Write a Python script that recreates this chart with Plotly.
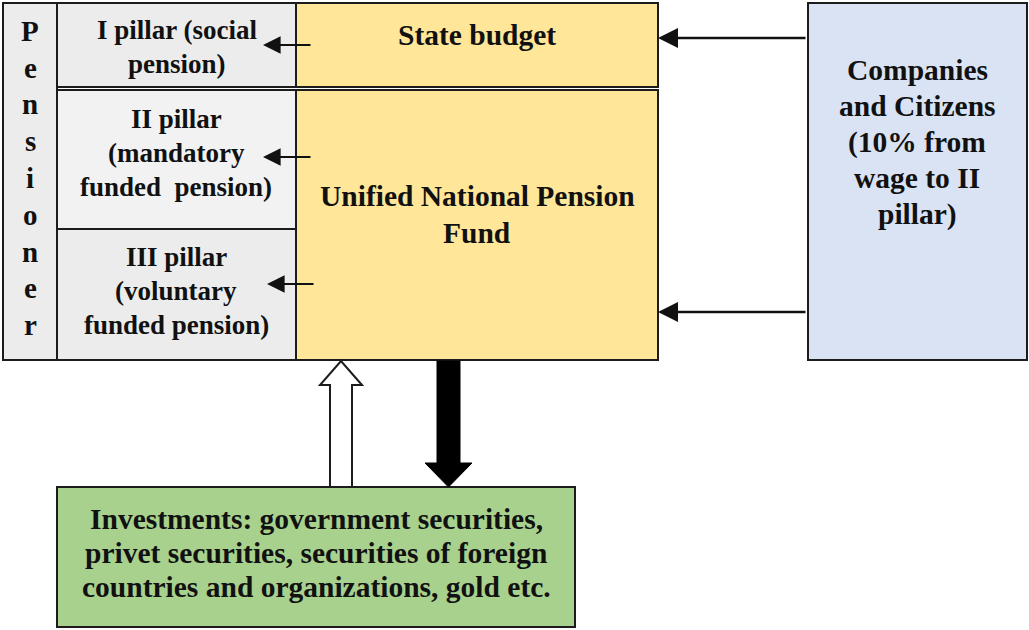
import plotly.graph_objects as go

# ---- diagram content (text labels) ----
pensioner_word = "Pensioner"
pillar_labels = [
    ["I pillar (social", "pension)"],
    ["II pillar", "(mandatory", "funded  pension)"],
    ["III pillar", "(voluntary", "funded pension)"],
]
state_budget_label = ["State budget"]
fund_label = ["Unified National Pension", "Fund"]
companies_label = ["Companies", "and Citizens", "(10% from", "wage to II", "pillar)"]
investments_label = ["Investments: government securities,",
                     "privet securities, securities of foreign",
                     "countries and organizations, gold etc."]

# ---- colours ----
GREY = "#ececec"
GREY_LIGHT = "#f2f2f2"
YELLOW = "#ffe699"
BLUE = "#dae3f3"
GREEN = "#a9d18e"
EDGE = "#1c1c1c"
FONT = "Liberation Serif"

W, H = 1029, 630
fig = go.Figure()

def box(x0, y0, x1, y1, fill, lw=2):
    fig.add_shape(type="rect", x0=x0, y0=y0, x1=x1, y1=y1, xref="x", yref="y",
                  fillcolor=fill, line=dict(color=EDGE, width=lw), layer="below")

def text(lines, x, y, size, spacing=0):
    n = len(lines)
    for i, line in enumerate(lines):
        fig.add_annotation(x=x, y=y + (i - (n - 1) / 2) * spacing, xref="x", yref="y",
                           text=line, showarrow=False, xanchor="center", yanchor="middle",
                           font=dict(family=FONT, size=size, color="#111", weight="bold"))

def arrow(x_tail, x_tip, y, width=2.2, size=1.6):
    fig.add_annotation(x=x_tip, y=y, ax=x_tail, ay=y, xref="x", yref="y", axref="x", ayref="y",
                       text="", showarrow=True, arrowhead=2, arrowsize=size,
                       arrowwidth=width, arrowcolor="#111", standoff=0)

# boxes
box(3, 3, 57, 360, GREY)
box(57, 3, 296, 87, GREY)
box(57, 90, 296, 229, GREY_LIGHT)
box(57, 229, 296, 360, GREY)
box(296, 3, 658, 87, YELLOW)
box(296, 90, 658, 360, YELLOW)
box(808, 3, 1027, 360, BLUE)
box(57, 487, 575, 627, GREEN)

# texts
text(list(pensioner_word), 30, 178, 29, spacing=36.8)
text(pillar_labels[0], 177, 47, 27, spacing=34)
text(pillar_labels[1], 176, 153, 27, spacing=34)
text(pillar_labels[2], 176, 291, 27, spacing=34)
text(state_budget_label, 477, 35, 29.5)
text(fund_label, 477, 214, 29.5, spacing=37)
text(companies_label, 917, 142, 29.5, spacing=36)
text(investments_label, 316, 553, 29.5, spacing=34)

# small arrows into the pillars
arrow(312, 263, 45)
arrow(312, 263, 157)
arrow(315, 267, 284)
# arrows from companies
arrow(807, 658, 38, width=2.5)
arrow(807, 658, 312, width=2.5)

# block arrows
hollow = "M 330 487 L 330 385 L 320 385 L 341 361 L 362 385 L 352 385 L 352 487 Z"
fig.add_shape(type="path", path=hollow, xref="x", yref="y", fillcolor="white",
              line=dict(color=EDGE, width=2))
solid = "M 437 361 L 460 361 L 460 463 L 472 463 L 448.5 487 L 425 463 L 437 463 Z"
fig.add_shape(type="path", path=solid, xref="x", yref="y", fillcolor="black",
              line=dict(color="black", width=1))

fig.update_xaxes(range=[0, W], visible=False, fixedrange=True)
fig.update_yaxes(range=[H, 0], visible=False, fixedrange=True)
fig.update_layout(width=W, height=H, margin=dict(l=0, r=0, t=0, b=0),
                  paper_bgcolor="white", plot_bgcolor="white", showlegend=False)
fig.write_html("out.html", config={"displayModeBar": False},
               post_script="document.body.style.margin='0';document.body.style.overflow='hidden';")
